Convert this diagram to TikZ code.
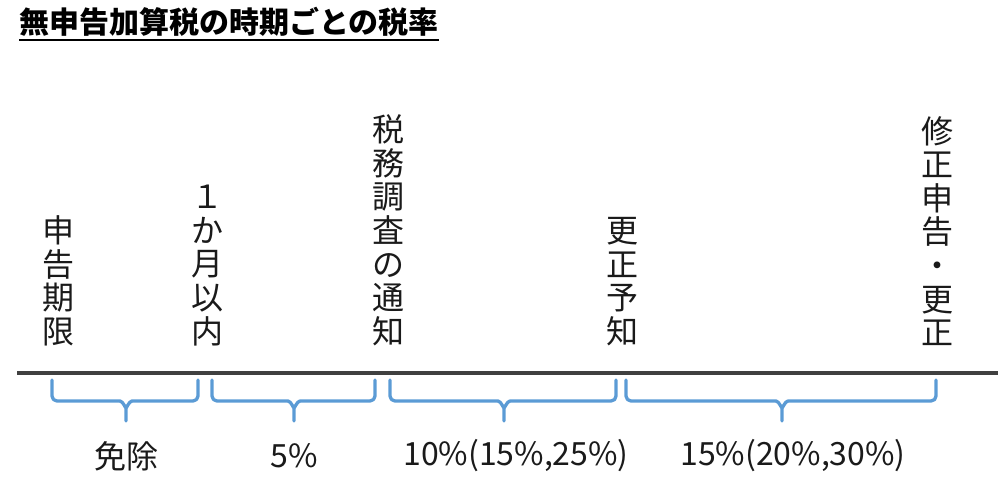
\documentclass[tikz,border=0pt]{standalone}
\usepackage{fontspec}
\setmainfont{Noto Sans CJK JP}
\definecolor{braceblue}{HTML}{5B9BD5}
\definecolor{axisgray}{HTML}{404040}
\definecolor{txt}{HTML}{1A1A1A}
\begin{document}
\begin{tikzpicture}[x=1pt,y=-1pt,
  vlabel/.style={anchor=south,inner sep=0pt,align=center,text=txt,font=\fontsize{32}{33.6}\selectfont},
  rate/.style={inner sep=0pt,text=txt,font=\fontsize{32}{36}\selectfont},
  axis/.style={line width=4pt,draw=axisgray},
  bracepath/.style={line width=3.3pt,draw=braceblue,line cap=round,line join=round}]
\useasboundingbox (0,0) rectangle (1000,499);
% title
\node[anchor=west,inner sep=0pt,font=\fontsize{30}{33}\selectfont\bfseries] (title) at (19,22) {無申告加算税の時期ごとの税率};
\draw[line width=2pt] (title.west |- 0,40) -- (title.east |- 0,40);
% axis
\coordinate (axL) at (17,373);
\coordinate (axR) at (998,373);
\draw[axis] (axL) -- (axR);
% vertical labels
\node[vlabel] (v1) at (58,346) {申\\告\\期\\限};
\node[vlabel] (v2) at (207,346) {１\\か\\月\\以\\内};
\node[vlabel] (v3) at (388,346) {税\\務\\調\\査\\の\\通\\知};
\node[vlabel] (v4) at (622,346) {更\\正\\予\\知};
\node[vlabel] (v5) at (937,346) {修\\正\\申\\告\\・\\更\\正};
% braces
\foreach \a/\t/\b [count=\i] in {52/126/198, 212/294/375, 390/504/616, 626/782/936}{
  \draw[bracepath] (\a,380) -- (\a,396) to[out=-90,in=180] (\a+5,401) -- (\t-6,401)
     to[out=0,in=-90] (\t,407) -- (\t,421);
  \draw[bracepath] (\b,380) -- (\b,396) to[out=-90,in=0] (\b-5,401) -- (\t+6,401)
     to[out=180,in=-90] (\t,407);
}
% rates
\node[rate] (r1) at (126,456) {免除};
\node[rate] (r2) at (294,456) {5\%};
\node[rate] (r3) at (516,456) {10\%(15\%,25\%)};
\node[rate] (r4) at (793,456) {15\%(20\%,30\%)};
\end{tikzpicture}
\end{document}
